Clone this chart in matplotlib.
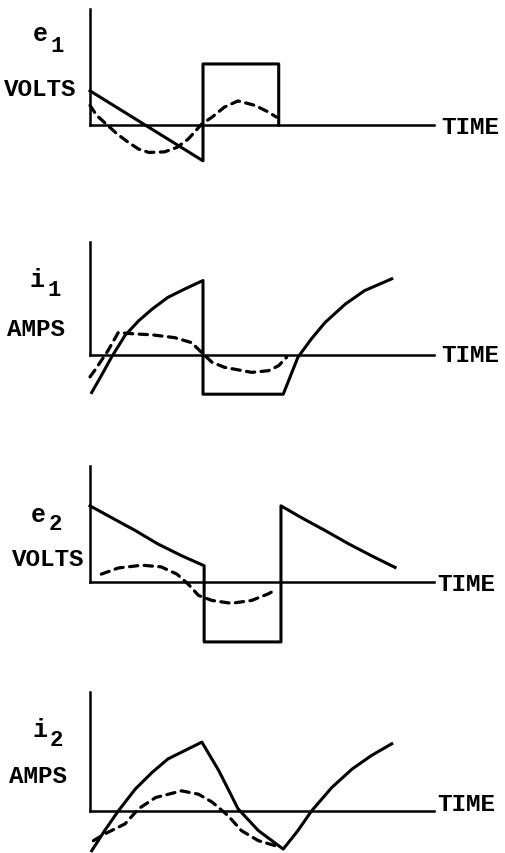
import matplotlib.pyplot as plt

# ---- data (time in half-cycle units, amplitude arbitrary) ----
# panel 1: e1 (volts) - ramp then square pulse
e1_t = [0.0, 1.0, 1.0, 1.0, 1.67, 1.67]
e1_v = [0.61, -0.64, 0.0, 1.09, 1.09, 0.0]
e1_fund_t = [0.0, 0.06, 0.24, 0.34, 0.43, 0.52, 0.66, 0.77, 0.87, 0.99, 1.08, 1.19, 1.31, 1.46, 1.58, 1.65]
e1_fund_v = [0.35, 0.17, -0.16, -0.31, -0.43, -0.49, -0.48, -0.40, -0.25, 0.02, 0.14, 0.32, 0.43, 0.35, 0.23, 0.14]

# panel 2: i1 (amps)
i1_t = [0.015, 0.10, 0.19, 0.31, 0.43, 0.55, 0.69, 0.84, 1.0, 1.0, 1.71, 1.84, 1.96, 2.08, 2.26, 2.43, 2.67]
i1_v = [-0.67, -0.37, -0.04, 0.35, 0.61, 0.82, 1.03, 1.18, 1.33, -0.70, -0.70, -0.04, 0.29, 0.58, 0.91, 1.15, 1.36]
i1_fund_t = [0.0, 0.04, 0.16, 0.25, 0.37, 0.55, 0.75, 0.90, 0.97, 1.08, 1.19, 1.43, 1.58, 1.67, 1.74]
i1_fund_v = [-0.39, -0.28, 0.08, 0.40, 0.38, 0.36, 0.31, 0.22, 0.08, -0.13, -0.22, -0.31, -0.28, -0.19, -0.04]

# panel 3: e2 (volts)
e2_t = [0.0, 0.19, 0.40, 0.60, 0.81, 1.01, 1.01, 1.69, 1.69, 1.87, 2.08, 2.29, 2.49, 2.70]
e2_v = [1.36, 1.15, 0.92, 0.68, 0.47, 0.29, -1.07, -1.07, 1.36, 1.15, 0.92, 0.68, 0.47, 0.26]
e2_fund_t = [0.10, 0.25, 0.46, 0.63, 0.77, 0.87, 0.96, 1.08, 1.25, 1.43, 1.58, 1.65]
e2_fund_v = [0.14, 0.25, 0.30, 0.27, 0.14, -0.04, -0.24, -0.33, -0.38, -0.33, -0.21, -0.13]

# panel 4: i2 (amps)
i2_t = [0.015, 0.13, 0.25, 0.40, 0.55, 0.69, 0.84, 0.99, 1.14, 1.31, 1.49, 1.71,
        1.84, 1.96, 2.14, 2.32, 2.49, 2.67]
i2_v = [-0.71, -0.35, 0.0, 0.39, 0.69, 0.93, 1.08, 1.23, 0.72, 0.04, -0.35, -0.68,
        -0.35, 0.0, 0.42, 0.75, 0.99, 1.20]
i2_fund_t = [0.03, 0.13, 0.31, 0.43, 0.58, 0.81, 0.96, 1.08, 1.22, 1.34, 1.49, 1.64]
i2_fund_v = [-0.53, -0.41, -0.23, 0.04, 0.24, 0.36, 0.30, 0.16, -0.08, -0.35, -0.53, -0.62]

W, H = 506, 854
PX_T = 113.0    # pixels per time unit
PX_V = 56.0     # pixels per amplitude unit
X0 = 90         # pixel column of the vertical axis
T_END = 3.04    # length of time axis

plt.rcParams['font.family'] = ['Liberation Mono', 'DejaVu Sans Mono']
plt.rcParams['font.weight'] = 'bold'

fig = plt.figure(figsize=(W / 100, H / 100), dpi=100)
fig.patch.set_facecolor('white')

# x-axis row, top of y-axis, bottom of panel, curves, labels and their pixel spots
panels = [
    dict(axis_y=126, top=10, bot=172, solid=(e1_t, e1_v), fund=(e1_fund_t, e1_fund_v),
         sym='e', sub='1', unit='VOLTS', sym_xy=(40, 34), sub_xy=(57, 46), unit_xy=(4, 89), time_xy=(441, 127)),
    dict(axis_y=356, top=243, bot=402, solid=(i1_t, i1_v), fund=(i1_fund_t, i1_fund_v),
         sym='i', sub='1', unit='AMPS', sym_xy=(37, 280), sub_xy=(54, 291), unit_xy=(7, 330), time_xy=(441, 356)),
    dict(axis_y=583, top=467, bot=650, solid=(e2_t, e2_v), fund=(e2_fund_t, e2_fund_v),
         sym='e', sub='2', unit='VOLTS', sym_xy=(38, 515), sub_xy=(55, 525), unit_xy=(12, 560), time_xy=(437, 585)),
    dict(axis_y=812, top=693, bot=854, solid=(i2_t, i2_v), fund=(i2_fund_t, i2_fund_v),
         sym='i', sub='2', unit='AMPS', sym_xy=(40, 730), sub_xy=(56, 741), unit_xy=(9, 777), time_xy=(437, 805)),
]

t_lo, t_hi = -0.2, 3.1
for p in panels:
    left = (X0 + t_lo * PX_T) / W
    width = (t_hi - t_lo) * PX_T / W
    ax = fig.add_axes([left, 1 - p['bot'] / H, width, (p['bot'] - p['top']) / H])
    ax.set_xlim(t_lo, t_hi)
    ymin = (p['axis_y'] - p['bot']) / PX_V
    ymax = (p['axis_y'] - p['top']) / PX_V
    ax.set_ylim(ymin, ymax)
    ax.patch.set_alpha(0)

    ax.plot(p['solid'][0], p['solid'][1], color='black', linewidth=2.2,
            solid_joinstyle='round', clip_on=False)
    ax.plot(p['fund'][0], p['fund'][1], color='black', linewidth=2.3,
            linestyle=(0, (2.6, 2.0)), dash_capstyle='round', clip_on=False)

    for s in ['top', 'right']:
        ax.spines[s].set_visible(False)
    ax.spines['left'].set_position(('data', 0))
    ax.spines['bottom'].set_position(('data', 0))
    ax.spines['left'].set_bounds(0, ymax)
    ax.spines['bottom'].set_bounds(0, T_END)
    for s in ['left', 'bottom']:
        ax.spines[s].set_linewidth(1.8)
    ax.set_xticks([])
    ax.set_yticks([])

    fig.text(p['sym_xy'][0] / W, 1 - p['sym_xy'][1] / H, p['sym'], fontsize=18,
             ha='center', va='center')
    fig.text(p['sub_xy'][0] / W, 1 - p['sub_xy'][1] / H, p['sub'], fontsize=16,
             ha='center', va='center')
    fig.text(p['unit_xy'][0] / W, 1 - p['unit_xy'][1] / H, p['unit'], fontsize=17.5,
             ha='left', va='center')
    fig.text(p['time_xy'][0] / W, 1 - p['time_xy'][1] / H, 'TIME', fontsize=17.5,
             ha='left', va='center')

fig.savefig('out.png', dpi=100, facecolor='white')
